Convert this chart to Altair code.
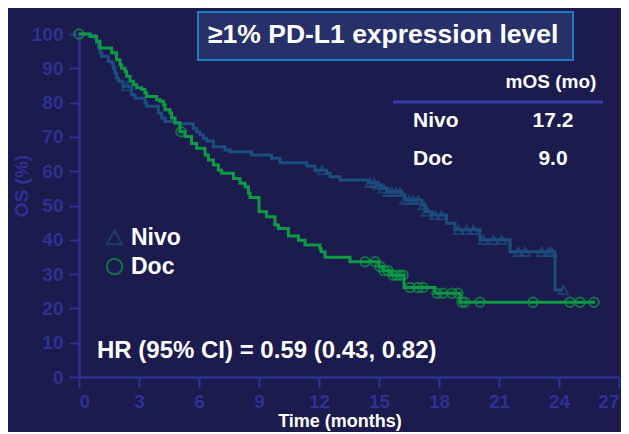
import altair as alt
import pandas as pd
import numpy as np

# ---- data ----
nivo_t = [0, 0.55, 0.8, 0.88, 0.97, 1.05, 1.13, 1.47, 1.63, 1.72, 1.8, 1.88, 1.97, 2.2, 2.63,
          2.8, 3.3, 3.38, 3.97, 4.13, 4.3, 4.8, 5.72, 5.88, 6.05, 6.22, 6.38, 6.72, 7.3, 7.55,
          8.63, 9.63, 10.05, 11.38, 11.8, 12.38, 12.55, 13.05, 14.47, 14.9, 15.13, 15.4, 16.13,
          16.3, 17.13, 17.3, 17.63, 18.38, 18.8, 20.05, 21.55, 23.8, 24.2]
nivo_s = [100, 99.6, 98.8, 97.4, 95.9, 94.5, 93.5, 92.0, 91.5, 90.1, 88.6, 87.2, 86.2, 84.8, 82.3,
          81.3, 79.9, 78.9, 77.0, 75.5, 74.5, 73.8, 72.5, 71.5, 70.6, 69.6, 68.8, 67.1, 66.2, 65.7,
          64.7, 63.8, 62.5, 61.5, 60.3, 59.4, 58.4, 57.4, 56.6, 56.0, 55.0, 54.0, 53.1,
          51.6, 50.1, 48.2, 47.2, 44.8, 42.9, 40.0, 36.5, 25.4, 25.4]
doc_t = [0, 0.55, 0.88, 1.05, 1.63, 1.88, 2.05, 2.13, 2.3, 2.38, 2.55, 2.72, 2.88, 3.13, 3.3,
         3.38, 3.88, 4.05, 4.22, 4.3, 4.55, 4.63, 4.8, 5.05, 5.3, 5.63, 5.88, 6.3, 6.47, 6.72,
         6.97, 7.13, 7.72, 8.05, 8.3, 8.47, 8.55, 9.0, 9.38, 9.8, 9.97, 10.47, 10.97, 11.3, 12.05,
         12.1, 12.3, 13.55, 15.0, 15.2, 15.6, 16.25, 17.8, 19.05, 25.8]
doc_s = [100, 99.3, 97.9, 95.9, 94.5, 92.5, 91.0, 90.0, 89.1, 87.7, 86.2, 85.2, 84.3, 83.8, 82.8,
         81.8, 80.8, 80.4, 79.4, 77.9, 77.0, 75.5, 74.1, 71.5, 70.1, 68.1, 66.7, 64.7, 63.3, 61.8,
         60.3, 59.4, 57.9, 56.5, 55.5, 53.6, 52.3, 48.2, 46.7, 44.3, 43.3, 41.1, 39.9, 38.5, 37.5,
         36.5, 34.9, 33.6, 32.2, 31.0, 29.7, 26.1, 24.4, 21.8, 21.8]
nivo_cens = [2.4, 12.15, 14.55, 14.75, 14.97, 15.22, 15.45, 15.63, 15.85, 16.05, 16.3, 16.5, 16.72,
             16.97, 17.22, 17.38, 17.8, 18.13, 18.97, 19.38, 19.72, 20.22, 20.72, 21.13, 21.97,
             22.3, 23.13, 23.47, 23.63, 24.22]
doc_cens = [0, 5.1, 14.3, 14.8, 15.05, 15.25, 15.45, 15.7, 15.9, 16.05, 16.2, 16.55, 16.95, 17.2,
            17.9, 18.2, 18.65, 18.95, 19.15, 19.3, 20.05, 22.7, 24.55, 25.05, 25.75]
groups = ["Nivo", "Doc"]
mos = ["17.2", "9.0"]
x_ticks = [0, 3, 6, 9, 12, 15, 18, 21, 24, 27]
y_ticks = [0, 10, 20, 30, 40, 50, 60, 70, 80, 90, 100]
title_text = "≥1% PD-L1 expression level"
hr_text = "HR (95% CI) = 0.59 (0.43, 0.82)"

BG = "#1b1b4e"
AXIS = "#2e3192"
C_NIVO = "#1b4e7e"
C_DOC = "#0e9a45"
FONT = "Liberation Sans"


def lookup(ts, ss, pts):
    idx = np.searchsorted(np.array(ts), np.array(pts), side="right") - 1
    return [ss[i] for i in idx]


nivo_df = pd.DataFrame({"t": nivo_t, "s": nivo_s})
doc_df = pd.DataFrame({"t": doc_t, "s": doc_s})
cens = pd.concat([
    pd.DataFrame({"t": nivo_cens, "s": lookup(nivo_t, nivo_s, nivo_cens), "g": "Nivo"}),
    pd.DataFrame({"t": doc_cens, "s": lookup(doc_t, doc_s, doc_cens), "g": "Doc"}),
])

xs = alt.Scale(domain=[0, 27], nice=False)
ys = alt.Scale(domain=[0, 100], nice=False)
cs = alt.Scale(domain=groups, range=[C_NIVO, C_DOC])
ss = alt.Scale(domain=groups, range=["triangle-up", "circle"])

xax = alt.Axis(values=x_ticks, title=None, labelPadding=5, labelOverlap=False,
               labelFontSize=19, labelFontWeight="bold", labelFont=FONT, labelColor=AXIS)
yax = alt.Axis(values=y_ticks, title=None, labelPadding=6, labelOverlap=False,
               labelFontSize=19, labelFontWeight="bold", labelFont=FONT, labelColor=AXIS)


def step_line(df, color):
    return alt.Chart(df).mark_line(interpolate="step-after", strokeWidth=3, color=color).encode(
        x=alt.X("t:Q", scale=xs, axis=xax),
        y=alt.Y("s:Q", scale=ys, axis=yax),
    )


legend = alt.Legend(title=None, orient="none", legendX=24, legendY=192,
                    labelColor="white", labelFontSize=23, labelFont=FONT,
                    labelFontWeight="bold", symbolSize=240,
                    symbolStrokeWidth=2, rowPadding=4, labelOffset=5, padding=0)

points = alt.Chart(cens).mark_point(filled=False, strokeWidth=2, size=90).encode(
    x=alt.X("t:Q", scale=xs, axis=xax),
    y=alt.Y("s:Q", scale=ys, axis=yax),
    color=alt.Color("g:N", scale=cs, sort=groups, legend=legend),
    shape=alt.Shape("g:N", scale=ss, sort=groups, legend=legend),
)

one = pd.DataFrame({"a": [0]})


def txt(text, x, y, size, color="white", align="left", angle=0, baseline="alphabetic"):
    return alt.Chart(one).mark_text(text=text, align=align, baseline=baseline, font=FONT,
                                    fontWeight="bold", fontSize=size, color=color,
                                    angle=angle).encode(x=alt.value(x), y=alt.value(y))


title_box = alt.Chart(one).mark_rect(fill="#28306a", stroke="#1e7cbf", strokeWidth=2).encode(
    x=alt.value(119), x2=alt.value(494), y=alt.value(-22), y2=alt.value(26))
table_rule = alt.Chart(one).mark_rule(color="#3a3fa8", strokeWidth=3).encode(
    x=alt.value(314), x2=alt.value(524), y=alt.value(68))

layers = [
    step_line(nivo_df, C_NIVO), step_line(doc_df, C_DOC), points,
    title_box, table_rule,
    txt(title_text, 129, 9, 26.5),
    txt("mOS (mo)", 472, 54, 19, align="center"),
    txt(groups[0], 334, 93, 21),
    txt(mos[0], 474, 93, 21, align="center"),
    txt(groups[1], 334, 131, 21),
    txt(mos[1], 474, 131, 21, align="center"),
    txt(hr_text, 18, 324, 24),
    txt("Time (months)", 261, 388, 18, baseline="middle", align="center"),
    txt("OS (%)", -57, 152, 19, color=AXIS, align="center", angle=270, baseline="middle"),
]

chart = alt.layer(*layers).properties(
    width=540, height=343,
    autosize=alt.AutoSizeParams(type="none"),
    padding={"left": 71, "top": 26, "right": 2, "bottom": 55},
    background=BG,
).configure_view(stroke=None).configure_axis(
    domainColor=AXIS, domainWidth=2.5, tickColor=AXIS, tickWidth=2, tickSize=10, grid=False,
    labelOverlap=False,
)

chart.save("out.html", embed_options={"renderer": "svg", "actions": False})
